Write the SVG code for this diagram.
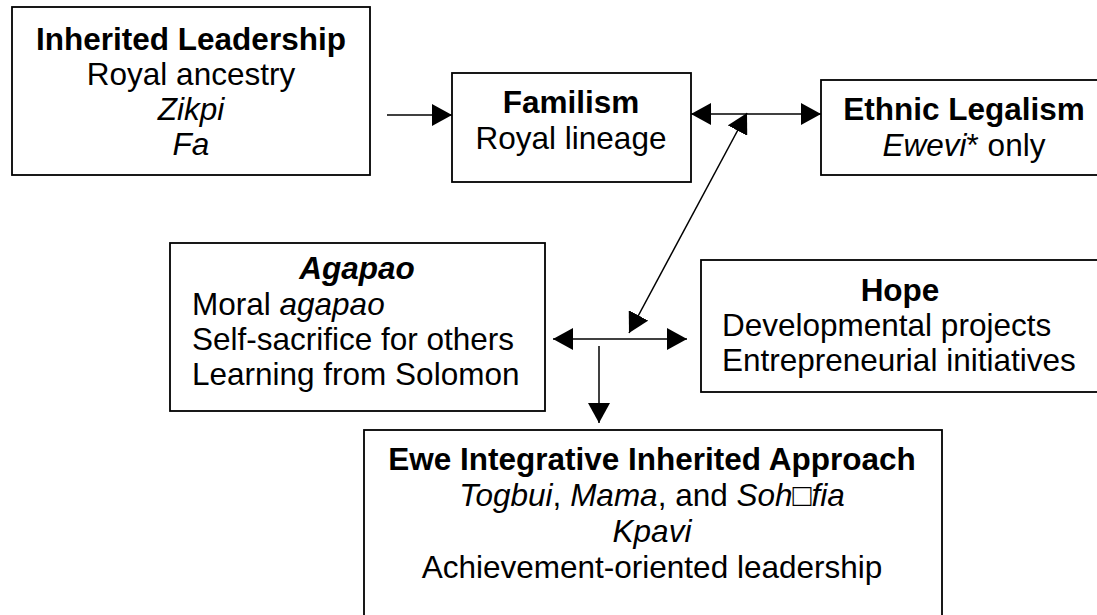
<svg xmlns="http://www.w3.org/2000/svg" width="1097" height="615" viewBox="0 0 1097 615">
<style>
.box{fill:#fff;stroke:#000;stroke-width:1.8}
text{font-family:"Liberation Sans",Arial,sans-serif;font-size:31.5px;fill:#000}
.c{text-anchor:middle}
.b{font-weight:bold}
.i{font-style:italic}
.ln{stroke:#000;stroke-width:1.5;fill:none}
</style>
<defs>
<marker id="ah" viewBox="0 0 20 22" refX="20" refY="11" markerWidth="20" markerHeight="22" markerUnits="userSpaceOnUse" orient="auto-start-reverse">
<path d="M0,0 L20,11 L0,22 Z" fill="#000"/>
</marker>
</defs>
<rect width="1097" height="615" fill="#fff"/>
<g id="inherited">
<rect class="box" x="12" y="7" width="358" height="168"/>
<text class="c b" x="191" y="50">Inherited Leadership</text>
<text class="c" x="191" y="85">Royal ancestry</text>
<text class="c i" x="191" y="120">Zikpi</text>
<text class="c i" x="191" y="155">Fa</text>
</g>
<g id="familism">
<rect class="box" x="452" y="73" width="239" height="109"/>
<text class="c b" x="571" y="113">Familism</text>
<text class="c" x="571" y="149">Royal lineage</text>
</g>
<g id="ethnic">
<rect class="box" x="821" y="80" width="285" height="95"/>
<text class="c b" x="964" y="120">Ethnic Legalism</text>
<text class="c" x="964" y="156"><tspan class="i">Ewevi</tspan>* only</text>
</g>
<g id="agapao">
<rect class="box" x="170" y="243" width="375" height="168"/>
<text class="c b i" x="357" y="279">Agapao</text>
<text x="192" y="315">Moral <tspan class="i">agapao</tspan></text>
<text x="192" y="350">Self-sacrifice for others</text>
<text x="192" y="385">Learning from Solomon</text>
</g>
<g id="hope">
<rect class="box" x="701" y="260" width="405" height="132"/>
<text class="c b" x="900" y="301">Hope</text>
<text x="722" y="336">Developmental projects</text>
<text x="722" y="371">Entrepreneurial initiatives</text>
</g>
<g id="ewe">
<rect class="box" x="364" y="430" width="578" height="200"/>
<text class="c b" x="652" y="470">Ewe Integrative Inherited Approach</text>
<text class="c" x="652" y="506"><tspan class="i">Togbui</tspan>, <tspan class="i">Mama</tspan>, and <tspan class="i">Soh□fia</tspan></text>
<text class="c i" x="652" y="542">Kpavi</text>
<text class="c" x="652" y="578">Achievement-oriented leadership</text>
</g>
<g id="connectors">
<line class="ln" x1="387" y1="115" x2="452" y2="115" marker-end="url(#ah)"/>
<line class="ln" x1="691" y1="114" x2="821" y2="114" marker-start="url(#ah)" marker-end="url(#ah)"/>
<line class="ln" x1="747" y1="113" x2="629" y2="333" marker-start="url(#ah)" marker-end="url(#ah)"/>
<line class="ln" x1="553" y1="339" x2="687" y2="339" marker-start="url(#ah)" marker-end="url(#ah)"/>
<line class="ln" x1="599" y1="346" x2="599" y2="423" marker-end="url(#ah)"/>
</g>
</svg>
